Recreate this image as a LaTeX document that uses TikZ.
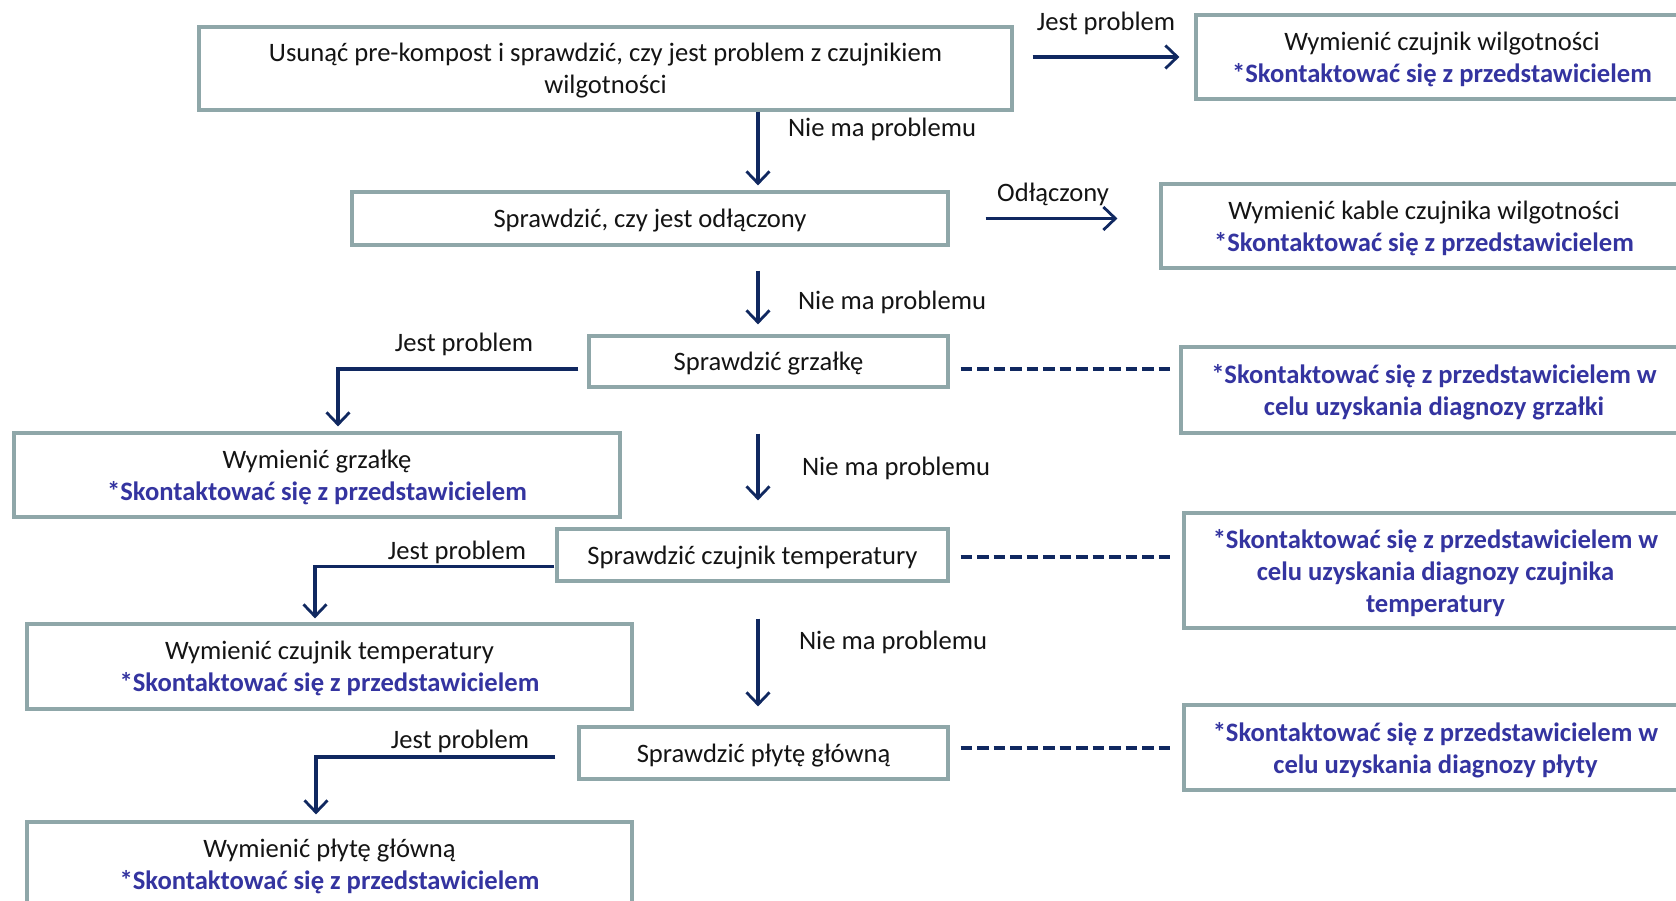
\documentclass[tikz,border=0pt]{standalone}
\usepackage{fontspec}
\setmainfont{Carlito}
\usetikzlibrary{arrows.meta}
\definecolor{bordc}{RGB}{143,167,169}
\definecolor{navy}{RGB}{16,40,96}
\definecolor{bluet}{RGB}{52,52,160}
\newcommand{\fsz}{\fontsize{26.6}{32}\selectfont}
\newcommand{\contact}{\textcolor{bluet}{\bfseries *Skontaktować się z przedstawicielem}}
\tikzset{
  box/.style={draw=bordc, line width=3.2pt, fill=white, align=center, inner sep=0pt, font=\fsz, text=black!92, text depth=0pt},
  lbl/.style={font=\fsz, text=black!92, inner sep=0pt},
  arr/.style={draw=navy, line width=3.4pt, -{Straight Barb[length=12pt,width=23pt,line width=2.8pt]}},
  dsh/.style={draw=navy, line width=3.4pt, dash pattern=on 11.5pt off 5pt},
}
\begin{document}
\begin{tikzpicture}[x=1pt,y=-1pt]
\useasboundingbox (0,0) rectangle (1676,901);
\clip (0,0) rectangle (1676,901);
\coordinate (spine) at (758,0);
% main column
\node[box, minimum width=813, minimum height=83] (b1) at (605.5,68.5) {Usunąć pre-kompost i sprawdzić, czy jest problem z czujnikiem\\wilgotności};
\node[box, minimum width=596, minimum height=53] (b2) at (650,218.5) {Sprawdzić, czy jest odłączony};
\node[box, minimum width=359, minimum height=51] (b3) at (768.5,361.5) {Sprawdzić grzałkę};
\node[box, minimum width=391, minimum height=52] (b4) at (752.5,555) {Sprawdzić czujnik temperatury};
\node[box, minimum width=369, minimum height=52] (b5) at (763.5,753) {Sprawdzić płytę główną};
% right column
\node[box, minimum width=492, minimum height=84] (r1) at (1442,57) {Wymienić czujnik wilgotności\\\contact};
\node[box, minimum width=526, minimum height=84] (r2) at (1424,226) {Wymienić kable czujnika wilgotności\\\contact};
\node[box, minimum width=506, minimum height=86, font=\fsz\bfseries, text=bluet] (r3) at (1434,390) {*Skontaktować się z przedstawicielem w\\celu uzyskania diagnozy grzałki};
\node[box, minimum width=503, minimum height=115, font=\fsz\bfseries, text=bluet] (r4) at (1435.5,570.5) {*Skontaktować się z przedstawicielem w\\celu uzyskania diagnozy czujnika\\temperatury};
\node[box, minimum width=503, minimum height=85, font=\fsz\bfseries, text=bluet] (r5) at (1435.5,747.5) {*Skontaktować się z przedstawicielem w\\celu uzyskania diagnozy płyty};
% left column
\node[box, minimum width=606, minimum height=84] (l1) at (317,475) {Wymienić grzałkę\\\contact};
\node[box, minimum width=605, minimum height=85] (l2) at (329.5,666.5) {Wymienić czujnik temperatury\\\contact};
\node[box, minimum width=605, minimum height=84] (l3) at (329.5,864) {Wymienić płytę główną\\\contact};
% vertical arrows
\draw[arr] (b1.south -| spine) -- ([yshift=5pt]b2.north -| spine);
\draw[arr] ([yshift=-24pt]b2.south -| spine) -- ([yshift=10pt]b3.north -| spine);
\draw[arr] ([yshift=-45pt]b3.south -| spine) -- ([yshift=27pt]b4.north -| spine);
\draw[arr] ([yshift=-36pt]b4.south -| spine) -- ([yshift=19pt]b5.north -| spine);
\node[lbl] (n1) at (882,129) {Nie ma problemu};
\node[lbl] (n2) at (892,302) {Nie ma problemu};
\node[lbl] (n3) at (896,468) {Nie ma problemu};
\node[lbl] (n4) at (893,642) {Nie ma problemu};
% right arrows
\draw[arr] ([xshift=19pt]b1.east |- r1.west) -- ([xshift=-15pt]r1.west);
\node[lbl] (j1) at (1106,23) {Jest problem};
\coordinate (a2) at ([xshift=36pt]b2.east);
\draw[arr] (a2) -- ([xshift=-42pt]r2.west |- a2);
\node[lbl] (o1) at (1053,194) {Odłączony};
% dashed
\coordinate (d3) at ([xshift=11pt,yshift=-7.5pt]b3.east);
\coordinate (d4) at ([xshift=11pt,yshift=-2pt]b4.east);
\coordinate (d5) at ([xshift=11pt,yshift=5pt]b5.east);
\draw[dsh] (d3) -- ([xshift=-8pt]r3.west |- d3);
\draw[dsh] (d4) -- ([xshift=-11pt]r4.west |- d4);
\draw[dsh] (d5) -- ([xshift=-11pt]r5.west |- d5);
% left connectors
\coordinate (k1) at (338,0);
\coordinate (k2) at (315,0);
\coordinate (k3) at (316,0);
\coordinate (s3) at ([xshift=-9pt,yshift=-7.5pt]b3.west);
\coordinate (s4) at ([xshift=-1pt,yshift=-11.5pt]b4.west);
\coordinate (s5) at ([xshift=-22pt,yshift=-4pt]b5.west);
\draw[arr] (s3) -- (s3 -| k1) -- ([yshift=5pt]l1.north -| k1);
\node[lbl] (j2) at (464,344) {Jest problem};
\draw[arr] (s4) -- (s4 -| k2) -- ([yshift=4pt]l2.north -| k2);
\node[lbl] (j3) at (457,552) {Jest problem};
\draw[arr] (s5) -- (s5 -| k3) -- ([yshift=6pt]l3.north -| k3);
\node[lbl] (j4) at (460,741) {Jest problem};
\end{tikzpicture}
\end{document}
